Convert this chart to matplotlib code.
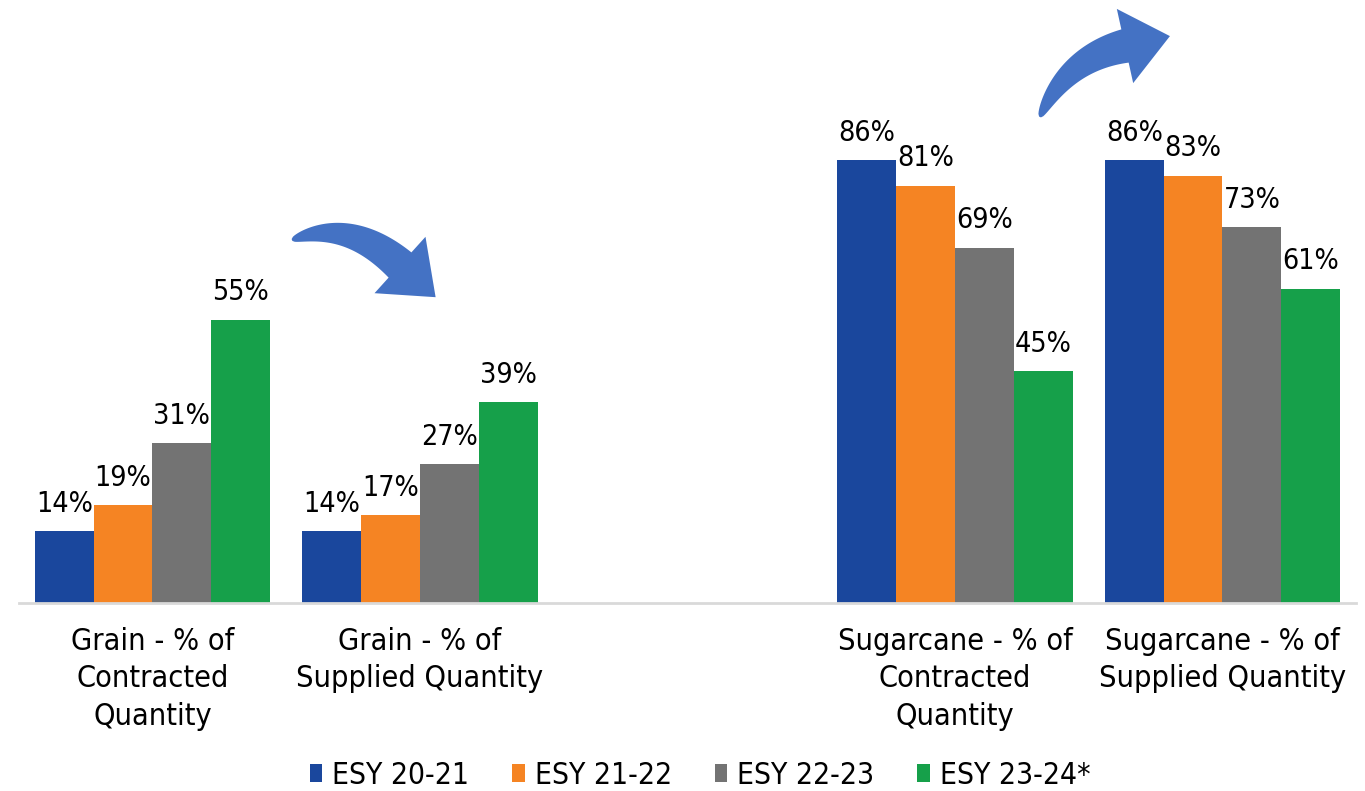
import matplotlib
matplotlib.use("Agg")
import matplotlib.pyplot as plt
from matplotlib.patches import Polygon, Patch
import numpy as np

plt.rcParams['font.family'] = ['DejaVu Sans']
plt.rcParams['font.stretch'] = 'condensed'

# data
categories = ["Grain - % of\nContracted\nQuantity", "Grain - % of\nSupplied Quantity", "",
              "Sugarcane - % of\nContracted\nQuantity", "Sugarcane - % of\nSupplied Quantity"]
seriesNames = ["ESY 20-21", "ESY 21-22", "ESY 22-23", "ESY 23-24*"]
esy2021 = [14, 14, None, 86, 86]
esy2122 = [19, 17, None, 81, 83]
esy2223 = [31, 27, None, 69, 73]
esy2324 = [55, 39, None, 45, 61]
colors = ["#1A479D", "#F58423", "#737373", "#16A04A"]

W, H = 1365, 791
fig = plt.figure(figsize=(W / 100, H / 100), dpi=100)
ax = fig.add_axes([18.75 / W, 188 / H, (1356.25 - 18.75) / W, 515 / H])

barWidth = 0.22
fs = 21.5
x = np.arange(len(categories))
for i, vals in enumerate([esy2021, esy2122, esy2223, esy2324]):
    for j, v in enumerate(vals):
        if v is None:
            continue
        xp = x[j] + (i - 1.5) * barWidth
        ax.bar(xp, v, width=barWidth, color=colors[i], edgecolor='none')
        ax.text(xp, v + 2.6, "%d%%" % v, ha='center', va='bottom', fontsize=20.5)

ax.set_xlim(-0.5, 4.5)
ax.set_ylim(0, 100)
ax.set_yticks([])
ax.set_xticks(x)
ax.set_xticklabels(categories, fontsize=22, linespacing=1.38)
ax.tick_params(axis='x', length=0, pad=17)
for s in ['top', 'right', 'left']:
    ax.spines[s].set_visible(False)
ax.spines['bottom'].set_color('#D9D9D9')
ax.spines['bottom'].set_linewidth(2)

# curved arrows drawn in pixel space (y down)
def curvedArrow(p0, ctrl, p2, headLen, headWidth, bodyWidth):
    p0 = np.array(p0, float); c = np.array(ctrl, float); p2 = np.array(p2, float)
    t = np.linspace(0, 1, 60)[:, None]
    pts = (1 - t) ** 2 * p0 + 2 * (1 - t) * t * c + t ** 2 * p2
    der = 2 * (1 - t) * (c - p0) + 2 * t * (p2 - c)
    der = der / np.linalg.norm(der, axis=1)[:, None]
    nrm = np.column_stack([-der[:, 1], der[:, 0]])
    w = 1 + (bodyWidth / 2 - 1) * t[:, 0] ** 0.55
    left = pts + nrm * w[:, None]
    right = pts - nrm * w[:, None]
    d = der[-1]; n = nrm[-1]
    tip = p2 + d * headLen
    h1 = p2 + n * headWidth / 2
    h2 = p2 - n * headWidth / 2
    poly = np.vstack([left, h1, tip, h2, right[::-1]])
    poly = np.column_stack([poly[:, 0] / W, 1 - poly[:, 1] / H])
    fig.patches.append(Polygon(poly, closed=True, transform=fig.transFigure,
                               facecolor='#4472C4', edgecolor='none'))

curvedArrow((292, 240), (348, 218), (400, 265), 48, 76, 34)
curvedArrow((1040, 117), (1066, 59), (1125, 46), 46, 76, 34)

handles = [Patch(facecolor=c, edgecolor='none') for c in colors]
fig.legend(handles, seriesNames, loc='center', bbox_to_anchor=(700 / W, 1 - 775 / H),
           ncol=4, frameon=False, fontsize=fs, handlelength=0.43, handleheight=0.55,
           handletextpad=0.33, columnspacing=1.43)

fig.savefig("out.png", dpi=100)
